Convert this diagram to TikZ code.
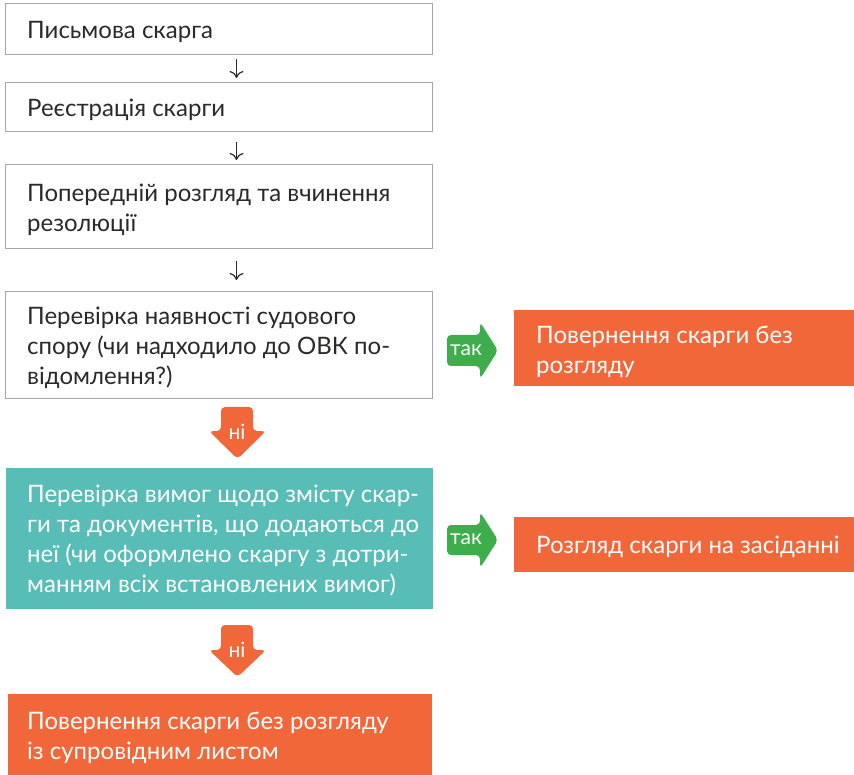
\documentclass[tikz,border=0pt]{standalone}
\usepackage{fontspec}
\setmainfont{Lato}
\usetikzlibrary{arrows.meta,calc}
\definecolor{txt}{HTML}{2B2A29}
\definecolor{brd}{HTML}{A6A6A6}
\definecolor{orng}{HTML}{F26739}
\definecolor{teal}{HTML}{58BDB6}
\definecolor{grn}{HTML}{3DAE4B}
\tikzset{
  box/.style={draw=brd, line width=1pt, fill=white, anchor=north west, inner sep=0pt},
  obox/.style={box, draw=none, fill=orng},
  tbox/.style={box, draw=none, fill=teal},
  btext/.style={anchor=west, text=txt, inner sep=0pt, align=left, font=\fontsize{24}{30}\selectfont},
  wtext/.style={btext, text=white},
  thin arrow/.style={draw=txt, line width=1.2pt, -{To[length=7pt,width=14pt]}},
  glabel/.style={text=white, font=\fontsize{21}{21}\selectfont, inner sep=0pt},
}
\begin{document}
\begin{tikzpicture}[x=1pt,y=-1pt]
\useasboundingbox (0,0) rectangle (854,775);
% left column boxes
\node[box, minimum width=427, minimum height=51] (b1) at (5,3) {};
\node[box, minimum width=427, minimum height=49] (b2) at (5,82) {};
\node[box, minimum width=427, minimum height=84] (b3) at (5,164) {};
\node[box, minimum width=427, minimum height=107] (b4) at (5,291) {};
\node[tbox, minimum width=427, minimum height=141] (b5) at (5,467) {};
\node[obox, minimum width=424, minimum height=82] (b6) at (7,693) {};
% right column boxes
\node[obox, minimum width=341, minimum height=76] (r1) at (513,310) {};
\node[obox, minimum width=341, minimum height=55] (r2) at (513,516) {};
% texts
\node[btext] (t1) at ([xshift=22pt,yshift=-3pt]b1.west) {Письмова скарга};
\node[btext] (t2) at ([xshift=22pt,yshift=-3pt]b2.west) {Реєстрація скарги};
\node[btext] (t3) at ([xshift=22pt,yshift=-3pt]b3.west) {Попередній розгляд та вчинення\\резолюції};
\node[btext] (t4) at ([xshift=22pt,yshift=-3pt]b4.west) {Перевірка наявності судового\\спору (чи надходило до ОВК по-\\відомлення?)};
\node[wtext] (t5) at ([xshift=22pt,yshift=-3pt]b5.west) {Перевірка вимог щодо змісту скар-\\ги та документів, що додаються до\\неї (чи оформлено скаргу з дотри-\\манням всіх встановлених вимог)};
\node[wtext] (t6) at ([xshift=20pt,yshift=-3pt]b6.west) {Повернення скарги без розгляду\\із супровідним листом};
\node[wtext] (t7) at ([xshift=23pt,yshift=-3pt]r1.west) {Повернення скарги без\\розгляду};
\node[wtext] (t8) at ([xshift=23pt,yshift=-3pt]r2.west) {Розгляд скарги на засіданні};
% thin arrows
\draw[thin arrow, shorten <=4pt, shorten >=4pt] ([xshift=17.5pt]b1.south) -- ([xshift=17.5pt]b2.north);
\draw[thin arrow, shorten <=10pt, shorten >=4pt] ([xshift=17.5pt]b2.south) -- ([xshift=17.5pt]b3.north);
\draw[thin arrow, shorten <=12pt, shorten >=11pt] ([xshift=17.5pt]b3.south) -- ([xshift=17.5pt]b4.north);
% green "так" arrows
\fill[grn, rounded corners=4pt] (447,335) -- (480,335) -- (480,322) -- (498,350.5) -- (480,379) -- (480,366) -- (447,366) -- cycle;
\node[glabel] (y1) at (466,350) {так};
\fill[grn, rounded corners=4pt] (447,525) -- (480,525) -- (480,512) -- (498,540) -- (480,568) -- (480,555) -- (447,555) -- cycle;
\node[glabel] (y2) at (466,539) {так};
% orange "ні" arrows
\fill[orng, rounded corners=4pt] (221,407) -- (253,407) -- (253,431) -- (266,431) -- (237.5,459) -- (209,431) -- (221,431) -- cycle;
\node[glabel] (n1) at (237,432) {ні};
\fill[orng, rounded corners=4pt] (221,625) -- (253,625) -- (253,650) -- (266,650) -- (237.5,677) -- (209,650) -- (221,650) -- cycle;
\node[glabel] (n2) at (237,650) {ні};
\end{tikzpicture}
\end{document}
